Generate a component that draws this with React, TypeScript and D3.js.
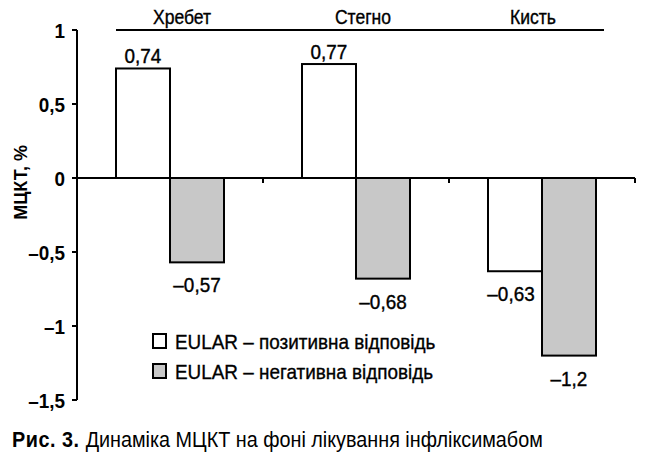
import React, { useEffect, useRef } from 'react';
import * as d3 from 'd3';

const categories = ['Хребет', 'Стегно', 'Кисть'];
const positive = [0.74, 0.77, -0.63];
const negative = [-0.57, -0.68, -1.2];
const positiveLabels = ['0,74', '0,77', '–0,63'];
const negativeLabels = ['–0,57', '–0,68', '–1,2'];
const yTicks = [1, 0.5, 0, -0.5, -1, -1.5];
const yTickLabels = ['1', '0,5', '0', '–0,5', '–1', '–1,5'];
const legendLabels = ['EULAR – позитивна відповідь', 'EULAR – негативна відповідь'];

const FONT = '"Liberation Sans", Arial, sans-serif';
// the original uses a condensed face: slightly taller glyphs squeezed horizontally
const SX = 0.9;

const App: React.FC = () => {
  const svgRef = useRef<SVGSVGElement>(null);

  useEffect(() => {
    if (!svgRef.current) return;
    const svg = d3.select(svgRef.current);
    svg.selectAll('*').remove();

    const width = 650;
    const height = 471;
    const left = 77;
    const right = 635;

    svg.append('rect').attr('width', width).attr('height', height).attr('fill', '#fff');

    const y = d3.scaleLinear().domain([-1.5, 1]).range([400, 30]);
    const x = d3.scaleBand<string>().domain(categories).range([left, right]);
    const barW = 54;
    const mid = (c: string) => (x(c) as number) + x.bandwidth() / 2;

    const label = (tx: number, ty: number, size: number, anchor = 'middle') =>
      svg.append('text')
        .attr('transform', `translate(${tx},${ty}) scale(${SX},1)`)
        .attr('text-anchor', anchor)
        .attr('font-family', FONT).attr('font-size', size);

    // axes
    svg.append('line')
      .attr('x1', left).attr('x2', left).attr('y1', y(1)).attr('y2', y(-1.5))
      .attr('stroke', '#000').attr('stroke-width', 2);
    svg.append('line')
      .attr('x1', left).attr('x2', right).attr('y1', y(0)).attr('y2', y(0))
      .attr('stroke', '#000').attr('stroke-width', 2);

    // x ticks at band edges
    categories.forEach((c) => {
      const xe = (x(c) as number) + x.bandwidth();
      svg.append('line')
        .attr('x1', xe).attr('x2', xe).attr('y1', y(0)).attr('y2', y(0) + 5)
        .attr('stroke', '#000').attr('stroke-width', 2);
    });

    // y ticks
    yTicks.forEach((t, i) => {
      svg.append('line')
        .attr('x1', left - 5).attr('x2', left).attr('y1', y(t)).attr('y2', y(t))
        .attr('stroke', '#000').attr('stroke-width', 2);
      label(left - 12, y(t) + 7.5, 21, 'end')
        .attr('font-weight', 700)
        .text(yTickLabels[i]);
    });

    // y axis title
    svg.append('text')
      .attr('transform', `translate(27, ${y(-0.03)}) rotate(-90)`)
      .attr('text-anchor', 'middle')
      .attr('font-family', FONT).attr('font-size', 18).attr('font-weight', 700)
      .text('МЦКТ, %');

    // top line and category labels
    svg.append('line')
      .attr('x1', mid(categories[0]) - barW).attr('x2', mid(categories[categories.length - 1]) + barW + 8)
      .attr('y1', y(1)).attr('y2', y(1))
      .attr('stroke', '#000').attr('stroke-width', 2);
    const labelShift = [12, 7, -9];
    categories.forEach((c, i) => {
      label(mid(c) + labelShift[i], 24, 19.5)
        .attr('stroke', '#000').attr('stroke-width', 0.35)
        .text(c);
    });

    // bars
    categories.forEach((c, i) => {
      const m = mid(c);
      const vals = [positive[i], negative[i]];
      const fills = ['#ffffff', '#c8c8c8'];
      const labels = [positiveLabels[i], negativeLabels[i]];
      vals.forEach((v, j) => {
        const bx = m - barW + j * barW;
        svg.append('rect')
          .attr('x', bx).attr('width', barW)
          .attr('y', Math.min(y(v), y(0)))
          .attr('height', Math.abs(y(v) - y(0)))
          .attr('fill', fills[j]).attr('stroke', '#000').attr('stroke-width', 2);
        const ly = v >= 0 ? y(v) - 5 : y(v) + 30;
        label(bx + barW / 2 - (v < 0 && j === 0 ? 4 : 0), ly, 21)
          .attr('stroke', '#000').attr('stroke-width', 0.4)
          .text(labels[j]);
      });
    });

    // legend
    const legendFills = ['#ffffff', '#c8c8c8'];
    legendLabels.forEach((l, i) => {
      const ly = 334 + i * 30;
      svg.append('rect')
        .attr('x', 153).attr('y', ly).attr('width', 13).attr('height', 14)
        .attr('fill', legendFills[i]).attr('stroke', '#000').attr('stroke-width', 2);
      label(175, ly + 15, 21, 'start')
        .attr('stroke', '#000').attr('stroke-width', 0.35)
        .text(l);
    });

    // caption
    const cap = label(12, 447, 22, 'start');
    cap.append('tspan').attr('font-weight', 700).attr('letter-spacing', 0.6).text('Рис. 3. ');
    cap.append('tspan').text('Динаміка МЦКТ на фоні лікування інфліксимабом');
  }, []);

  return (
    <svg
      ref={svgRef}
      width={650}
      height={471}
      viewBox="0 0 650 471"
      style={{ position: 'absolute', left: 0, top: 0 }}
    />
  );
};

export default App;
